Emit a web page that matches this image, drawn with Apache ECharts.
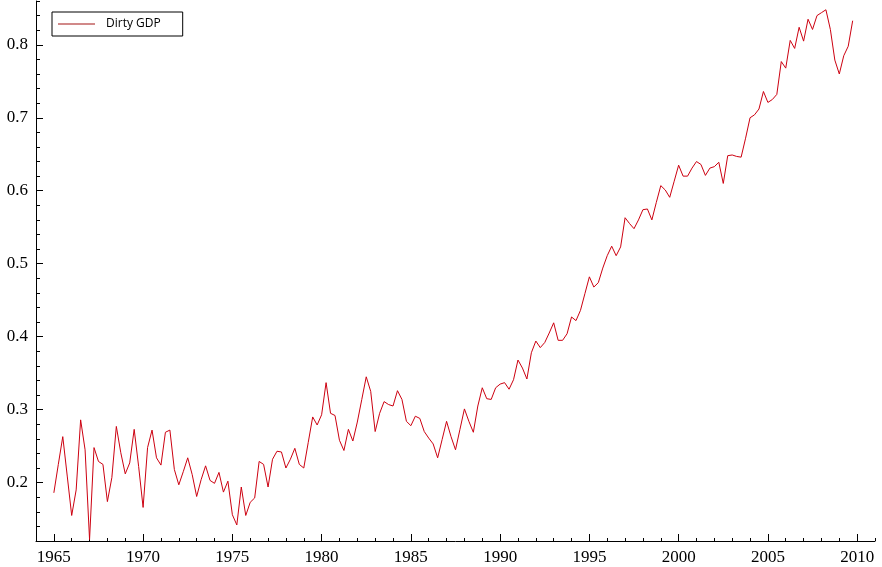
<!DOCTYPE html>
<html>
<head>
<meta charset="utf-8">
<script src="https://cdn.jsdelivr.net/npm/echarts@6/dist/echarts.min.js"></script>
<style>
html, body { margin: 0; padding: 0; background: #fff; }
#chart { width: 882px; height: 567px; }
</style>
</head>
<body>
<div id="chart"></div>
<script>
// quarterly series, first point at 1965 Q1
var seriesName = 'Dirty GDP';
var firstYear = 1965;
var dirtyGdp = [
  0.186, 0.225, 0.263, 0.209, 0.155, 0.190, 0.286, 0.245, 0.122, 0.248,
  0.229, 0.225, 0.174, 0.207, 0.277, 0.241, 0.212, 0.227, 0.273, 0.222,
  0.166, 0.248, 0.272, 0.234, 0.224, 0.269, 0.272, 0.218, 0.197, 0.215,
  0.234, 0.211, 0.181, 0.204, 0.223, 0.203, 0.199, 0.214, 0.187, 0.202,
  0.156, 0.142, 0.194, 0.155, 0.173, 0.179, 0.229, 0.225, 0.194, 0.232,
  0.243, 0.242, 0.220, 0.232, 0.247, 0.225, 0.220, 0.255, 0.290, 0.279,
  0.293, 0.337, 0.295, 0.292, 0.258, 0.244, 0.273, 0.257, 0.283, 0.314,
  0.345, 0.325, 0.270, 0.295, 0.311, 0.307, 0.305, 0.326, 0.314, 0.284,
  0.278, 0.291, 0.288, 0.270, 0.261, 0.253, 0.234, 0.259, 0.284, 0.263,
  0.245, 0.273, 0.301, 0.284, 0.269, 0.305, 0.330, 0.315, 0.314, 0.330,
  0.335, 0.337, 0.328, 0.341, 0.368, 0.357, 0.342, 0.378, 0.394, 0.385,
  0.392, 0.405, 0.419, 0.395, 0.395, 0.404, 0.427, 0.422, 0.436, 0.459,
  0.482, 0.468, 0.474, 0.494, 0.511, 0.524, 0.511, 0.523, 0.563, 0.555,
  0.548, 0.560, 0.574, 0.575, 0.560, 0.584, 0.607, 0.601, 0.591, 0.613,
  0.635, 0.620, 0.620, 0.631, 0.640, 0.636, 0.621, 0.631, 0.633, 0.639,
  0.610, 0.648, 0.649, 0.647, 0.646, 0.672, 0.700, 0.704, 0.712, 0.736,
  0.721, 0.725, 0.732, 0.777, 0.768, 0.806, 0.795, 0.824, 0.805, 0.835,
  0.821, 0.840, 0.844, 0.848, 0.821, 0.779, 0.760, 0.785, 0.798, 0.833
];

// tick labels
var xMajor = [1965, 1970, 1975, 1980, 1985, 1990, 1995, 2000, 2005, 2010];
var xMinor = [1964, 1965, 1966, 1967, 1968, 1969, 1970, 1971, 1972, 1973, 1974, 1975,
  1976, 1977, 1978, 1979, 1980, 1981, 1982, 1983, 1984, 1985, 1986, 1987, 1988,
  1989, 1990, 1991, 1992, 1993, 1994, 1995, 1996, 1997, 1998, 1999, 2000, 2001,
  2002, 2003, 2004, 2005, 2006, 2007, 2008, 2009, 2010, 2011];
var yMajor = [0.2, 0.3, 0.4, 0.5, 0.6, 0.7, 0.8];
var yMinor = [0.12, 0.14, 0.16, 0.18, 0.2, 0.22, 0.24, 0.26, 0.28, 0.3, 0.32, 0.34,
  0.36, 0.38, 0.4, 0.42, 0.44, 0.46, 0.48, 0.5, 0.52, 0.54, 0.56, 0.58, 0.6, 0.62,
  0.64, 0.66, 0.68, 0.7, 0.72, 0.74, 0.76, 0.78, 0.8, 0.82, 0.84, 0.86];

var points = dirtyGdp.map(function (v, i) { return [firstYear + i / 4, v]; });

var chart = echarts.init(document.getElementById('chart'));
var labelFont = { fontFamily: 'Liberation Serif', fontSize: 17, color: '#000' };

var option = {
  animation: false,
  backgroundColor: '#fff',
  grid: { left: 36, right: 7, top: 1, bottom: 26 },
  legend: {
    left: 52, top: 12,
    padding: [5, 22, 5, 6],
    borderColor: '#000', borderWidth: 1,
    itemWidth: 37, itemHeight: 1,
    itemStyle: { color: '#a31515' },
    lineStyle: { color: '#a31515' },
    textStyle: { fontFamily: 'Open Sans', fontSize: 12, lineHeight: 14, color: '#000', padding: [0, 0, 0, 6] },
    data: [{ name: seriesName, icon: 'rect', itemStyle: { color: '#a31515' } }]
  },
  xAxis: [{
    type: 'value', min: 1964, max: 2011,
    splitLine: { show: false },
    axisLine: { lineStyle: { color: '#000', width: 1 } },
    axisTick: { inside: true, length: 7, customValues: xMajor, lineStyle: { color: '#000' } },
    axisLabel: Object.assign({ margin: 8, customValues: xMajor, formatter: function (v) { return String(v); } }, labelFont)
  }, {
    type: 'value', min: 1964, max: 2011, position: 'bottom',
    splitLine: { show: false },
    axisLine: { show: false },
    axisTick: { inside: true, length: 3, customValues: xMinor, lineStyle: { color: '#000' } },
    axisLabel: { show: false, customValues: xMinor }
  }],
  yAxis: [{
    type: 'value', min: 0.12, max: 0.86,
    splitLine: { show: false },
    axisLine: { show: true, lineStyle: { color: '#000', width: 1 } },
    axisTick: { show: true, inside: true, length: 7, customValues: yMajor, lineStyle: { color: '#000' } },
    axisLabel: Object.assign({ margin: 8, customValues: yMajor, formatter: function (v) { return v.toFixed(1); } }, labelFont)
  }, {
    type: 'value', min: 0.12, max: 0.86, position: 'left',
    splitLine: { show: false },
    axisLine: { show: false },
    axisTick: { show: true, inside: true, length: 4, customValues: yMinor, lineStyle: { color: '#000' } },
    axisLabel: { show: false, customValues: yMinor }
  }],
  series: [{
    name: seriesName,
    type: 'line',
    xAxisIndex: 0, yAxisIndex: 0,
    data: points,
    symbol: 'none',
    color: '#cc0010',
    lineStyle: { width: 1, color: '#cc0010' }
  }]
};
chart.setOption(option);
</script>
</body>
</html>
